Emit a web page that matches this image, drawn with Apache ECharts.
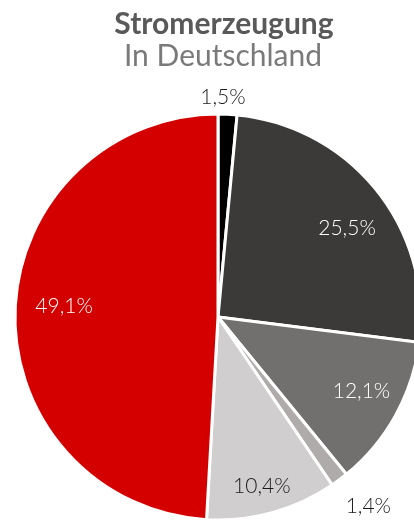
<!DOCTYPE html>
<html>
<head>
<meta charset="utf-8">
<script src="https://cdn.jsdelivr.net/npm/echarts@6/dist/echarts.min.js"></script>
<style>
html,body{margin:0;padding:0;background:#fff;}
#chart{width:414px;height:522px;}
</style>
</head>
<body>
<div id="chart"></div>
<script>
const titleText = "Stromerzeugung";
const subtitleText = "In Deutschland";
const categories = ["A", "B", "C", "D", "E", "F"];
const values = [1.5, 25.5, 12.1, 1.4, 10.4, 49.1];
const labels = ["1,5%", "25,5%", "12,1%", "1,4%", "10,4%", "49,1%"];

// styling (not data)
const colors = ["#000000", "#3b3a39", "#72706f", "#aeabaa", "#d0cece", "#d40000"];
const labelColors = ["#1a1a1a", "#ffffff", "#ffffff", "#1a1a1a", "#1a1a1a", "#ffffff"];
const outsideLabel = [true, false, false, true, false, false];
const labelNudge = [[-6, 13], [1, 14], [0, -5], [11, 2], [0, 11], [10, -6]];

const FONT = "Lato, 'Open Sans', sans-serif";
const CENTER = [218, 317];

const chart = echarts.init(document.getElementById('chart'), null, {renderer: 'canvas'});

function labelData(wantOutside) {
  return values.map((v, i) => ({
    name: categories[i],
    value: v,
    label: {
      show: outsideLabel[i] === wantOutside,
      color: labelColors[i],
      formatter: labels[i]
    }
  }));
}

function nudge(p) {
  const n = labelNudge[p.dataIndex];
  return {dx: n[0], dy: n[1]};
}

const option = {
  animation: false,
  title: [
    {text: titleText, left: 219, textAlign: 'center', top: 4,
     textStyle: {fontFamily: FONT, fontSize: 30, fontWeight: 'bold', color: '#595959'}},
    {text: subtitleText, left: 218, textAlign: 'center', top: 36,
     textStyle: {fontFamily: FONT, fontSize: 30, fontWeight: 'normal', color: '#7a7a7a'}}
  ],
  series: [
    {
      type: 'pie',
      center: CENTER,
      radius: 203,
      startAngle: 90,
      clockwise: true,
      avoidLabelOverlap: false,
      silent: true,
      label: {show: false},
      labelLine: {show: false},
      itemStyle: {borderColor: '#ffffff', borderWidth: 3},
      data: values.map((v, i) => ({name: categories[i], value: v, itemStyle: {color: colors[i]}}))
    },
    {
      type: 'pie',
      center: CENTER,
      radius: 322,
      startAngle: 90,
      clockwise: true,
      avoidLabelOverlap: false,
      silent: true,
      itemStyle: {color: 'rgba(0,0,0,0)'},
      label: {position: 'inside', fontFamily: FONT, fontSize: 21, fontWeight: 300},
      labelLine: {show: false},
      labelLayout: nudge,
      data: labelData(false)
    },
    {
      type: 'pie',
      center: CENTER,
      radius: 460,
      startAngle: 90,
      clockwise: true,
      avoidLabelOverlap: false,
      silent: true,
      itemStyle: {color: 'rgba(0,0,0,0)'},
      label: {position: 'inside', fontFamily: FONT, fontSize: 21, fontWeight: 300},
      labelLine: {show: false},
      labelLayout: nudge,
      data: labelData(true)
    }
  ]
};
chart.setOption(option);
</script>
</body>
</html>
